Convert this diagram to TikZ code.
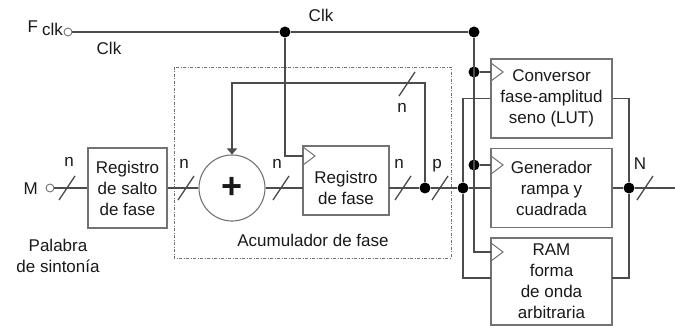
\documentclass[tikz,border=0pt]{standalone}
\usepackage{fontspec}
\setmainfont{Liberation Sans}
\usetikzlibrary{arrows.meta}
\definecolor{trazo}{gray}{0.3}
\definecolor{borde}{gray}{0.45}
\definecolor{texto}{gray}{0.1}
\tikzset{
  linea/.style={draw=trazo, line width=1.3pt},
  bloque/.style={draw=borde, line width=1.1pt, align=center, text=texto, inner sep=0pt},
  punto/.style={circle, fill=black, inner sep=0pt, minimum size=11pt},
  borne/.style={circle, draw=borde, line width=0.9pt, inner sep=0pt, minimum size=8pt},
  etiq/.style={text=texto, inner sep=0pt, align=center},
  marco/.style={draw=borde, line width=0.7pt, dash pattern=on 3pt off 1.5pt on 1pt off 1.5pt},
}
\newcommand{\barra}[1]{\draw[linea] (#1) ++(-8,12) -- ++(16,-24);}
\newcommand{\reloj}[1]{\draw[draw=borde, line width=1pt] (#1) ++(0,-9) -- ++(12,9) -- ++(-12,9);}

\begin{document}
\begin{tikzpicture}[x=1pt, y=-1pt, font=\fontsize{17}{21}\selectfont]
  \useasboundingbox (0,0) rectangle (675,326);

  % Bornes de entrada
  \node[borne] (fclk) at (68,32) {};
  \node[etiq, anchor=base east] (fclktxt) at (63,33) {F\hspace{4pt}\raisebox{-2.5pt}{clk}};
  \node[borne] (min) at (50,188) {};
  \node[etiq, anchor=base east] (mtxt) at (38,194) {M};
  \node[etiq] (palabra) at (58,256) {Palabra\\de sintonía};

  % Bloques
  \node[bloque, minimum width=79pt, minimum height=80pt] (salto) at (127.5,188) {Registro\\de salto\\de fase};
  \node[bloque, circle, minimum size=66pt] (sum) at (232,188) {\fontsize{36}{36}\selectfont\bfseries +};
  \node[bloque, minimum width=86pt, minimum height=69pt] (regf) at (346,180.5) {};
  \node[etiq] (regftxt) at (346,188) {Registro\\de fase};
  \node[bloque, minimum width=121pt, minimum height=79pt] (conv) at (551.5,98.5) {Conversor\\fase-amplitud\\seno (LUT)};
  \node[bloque, minimum width=121pt, minimum height=79pt] (gen) at (551.5,188) {Generador\\rampa y\\cuadrada};
  \node[bloque, minimum width=121pt, minimum height=87pt] (ram) at (551.5,281.5) {RAM\\forma\\de onda\\arbitraria};

  % Acumulador
  \draw[marco] (174,67) rectangle (451,258);
  \node[etiq, anchor=base] (acum) at (313,246) {Acumulador de fase};

  % Puntos de union
  \node[punto] (d1) at (285,32) {};
  \node[punto] (d2) at (474,32) {};
  \node[punto] (dc1) at (474,72) {};
  \node[punto] (dc2) at (474,165) {};
  \node[punto] (d3) at (425,188) {};
  \node[punto] (d4) at (463,188) {};
  \node[punto] (d5) at (629,188) {};
  \coordinate (rclk) at (303,156);
  \coordinate (rin) at (303,188);
  \coordinate (rout) at (389,188);
  \coordinate (fbl) at (232,83);
  \coordinate (cconv) at (491,72);
  \coordinate (cgen) at (491,165);
  \coordinate (cram) at (491,252);
  \coordinate (ramin) at (491,278);
  \coordinate (ramout) at (612,278);
  \coordinate (salida) at (675,188);

  % Reloj
  \draw[linea] (fclk) -- (d1) -- (d2) |- (cram);
  \draw[linea] (d1) |- (rclk);
  \draw[linea] (dc1) -- (cconv);
  \draw[linea] (dc2) -- (cgen);
  \reloj{rclk}
  \reloj{cconv}
  \reloj{cgen}
  \reloj{cram}
  \node[etiq, anchor=base] (clk1) at (321,22) {Clk};
  \node[etiq, anchor=base] (clk2) at (109,55) {Clk};

  % Camino de datos
  \draw[linea] (min) -- (salto);
  \draw[linea] (salto) -- (sum);
  \draw[linea] (sum) -- (rin);
  \draw[linea] (rout) -- (d3) -- (d4) -- (gen);
  \draw[linea, -{Triangle[width=10pt,length=6pt]}] (d3) |- (fbl) -- (sum);
  \draw[linea] (conv.west) -| (d4) |- (ramin);
  \draw[linea] (conv.east) -| (d5) |- (ramout);
  \draw[linea] (gen) -- (d5) -- (salida);

  % Anchos de bus
  \barra{67,188}
  \barra{186,188}
  \barra{281,188}
  \barra{403,188}
  \barra{440,188}
  \barra{407,84}
  \barra{645,188}
  \node[etiq, anchor=base] (n1) at (69,167) {n};
  \node[etiq, anchor=base] (n2) at (184,168) {n};
  \node[etiq, anchor=base] (n3) at (277,168) {n};
  \node[etiq, anchor=base] (n4) at (399,168) {n};
  \node[etiq, anchor=base] (p1) at (437,168) {p};
  \node[etiq, anchor=base] (n5) at (402,113) {n};
  \node[etiq, anchor=base] (nN) at (640,170) {N};
\end{tikzpicture}
\end{document}
